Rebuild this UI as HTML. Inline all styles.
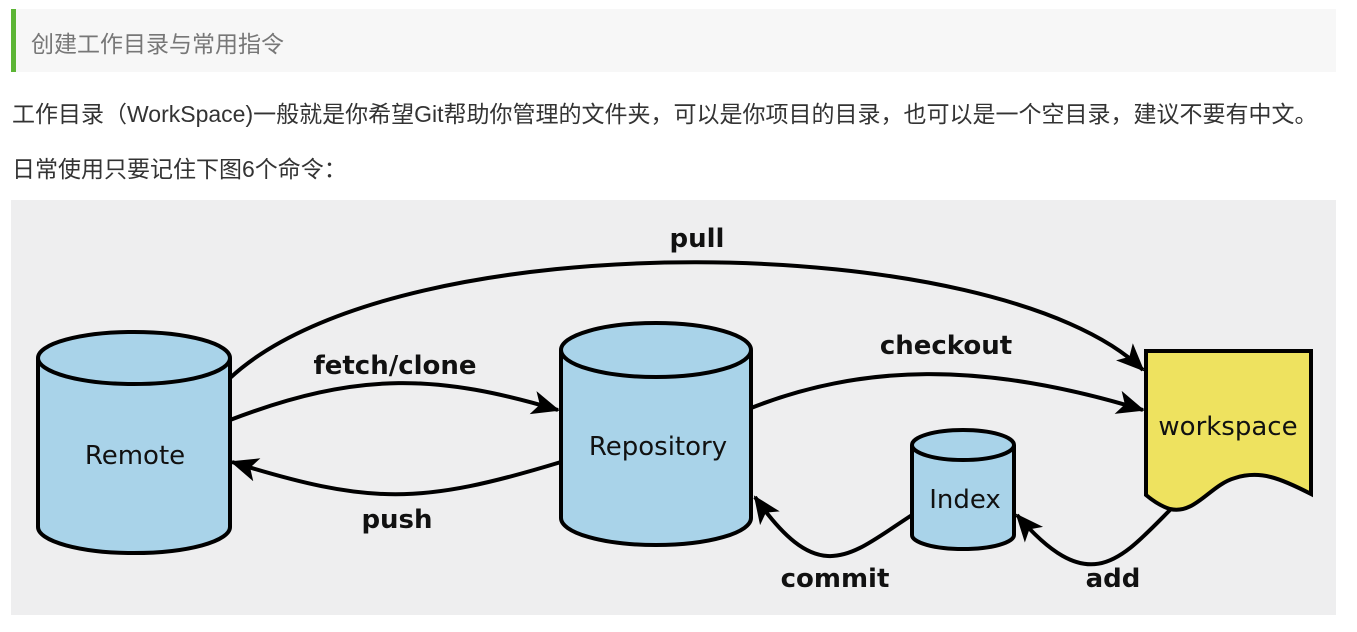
<!DOCTYPE html>
<html><head><meta charset="utf-8"><style>
body{margin:0;width:1357px;height:632px;background:#fff;font-family:"Liberation Sans","Noto Sans CJK SC",sans-serif;position:relative;overflow:hidden}
.h{position:absolute;left:11px;top:9px;width:1325px;height:63px;background:#f7f7f7;border-left:5px solid #5cb535;box-sizing:border-box}
.h span{position:absolute;left:15px;top:16px;font-size:23px;color:#777}
.p{position:absolute;left:12px;font-size:23px;color:#333;white-space:nowrap}
svg{position:absolute;left:0;top:0}
</style></head><body>
<div class="h"><span>创建工作目录与常用指令</span></div>
<div class="p" style="top:95px">工作目录（WorkSpace)一般就是你希望Git帮助你管理的文件夹，可以是你项目的目录，也可以是一个空目录，建议不要有中文。</div>
<div class="p" style="top:150px">日常使用只要记住下图6个命令：</div>
<svg width="1357" height="632">
<defs>
<marker id="b" markerWidth="30" markerHeight="30" refX="26" refY="15" orient="auto" markerUnits="userSpaceOnUse"><path d="M0,3 L28,15 L0,27 L7,15 Z" fill="#000"/></marker></defs>
<rect x="11" y="200" width="1325" height="415" fill="#eeeeef"/>
<g stroke="#000" stroke-width="4" fill="none">
<path d="M230,378 C400,220 1000,230 1143,370" marker-end="url(#b)"/>
<path d="M230,420 C360,370 440,375 558,410" marker-end="url(#b)"/>
<path d="M561,462 C420,505 370,505 232,462" marker-end="url(#b)"/>
<path d="M751,408 C860,365 980,360 1143,410" marker-end="url(#b)"/>
<path d="M912,515 C850,555 820,590 755,497" marker-end="url(#b)"/>
<path d="M1172,508 C1120,560 1090,600 1017,515" marker-end="url(#b)"/>
</g>
<g stroke="#000" stroke-width="4" fill="#a9d3e9">
<path d="M38,358 V527 A96,26 0 0 0 230,527 V358"/>
<ellipse cx="134" cy="358" rx="96" ry="26"/>
<path d="M561,350 V518 A95,27 0 0 0 751,518 V350"/>
<ellipse cx="656" cy="350" rx="95" ry="27"/>
<path d="M912,445 V535 A51,14 0 0 0 1014,535 V445"/>
<ellipse cx="963" cy="445" rx="51" ry="15"/>
<path d="M1146,351 H1311 V494 C1280,478 1260,470 1235,478 C1210,485 1195,515 1170,509 C1160,506 1152,500 1146,495 Z" fill="#eee25f"/>
</g>
<g font-family="DejaVu Sans,sans-serif" font-size="26" fill="#111" text-anchor="middle">
<text x="135" y="464">Remote</text>
<text x="658" y="455">Repository</text>
<text x="965" y="508">Index</text>
<text x="1228" y="435">workspace</text>
</g>
<g font-family="DejaVu Sans,sans-serif" font-weight="bold" font-size="26" fill="#111" text-anchor="middle">
<text x="697" y="247">pull</text>
<text x="395" y="374">fetch/clone</text>
<text x="946" y="354">checkout</text>
<text x="397" y="528">push</text>
<text x="835" y="587">commit</text>
<text x="1113" y="587">add</text>
</g>
</svg>
</body></html>
